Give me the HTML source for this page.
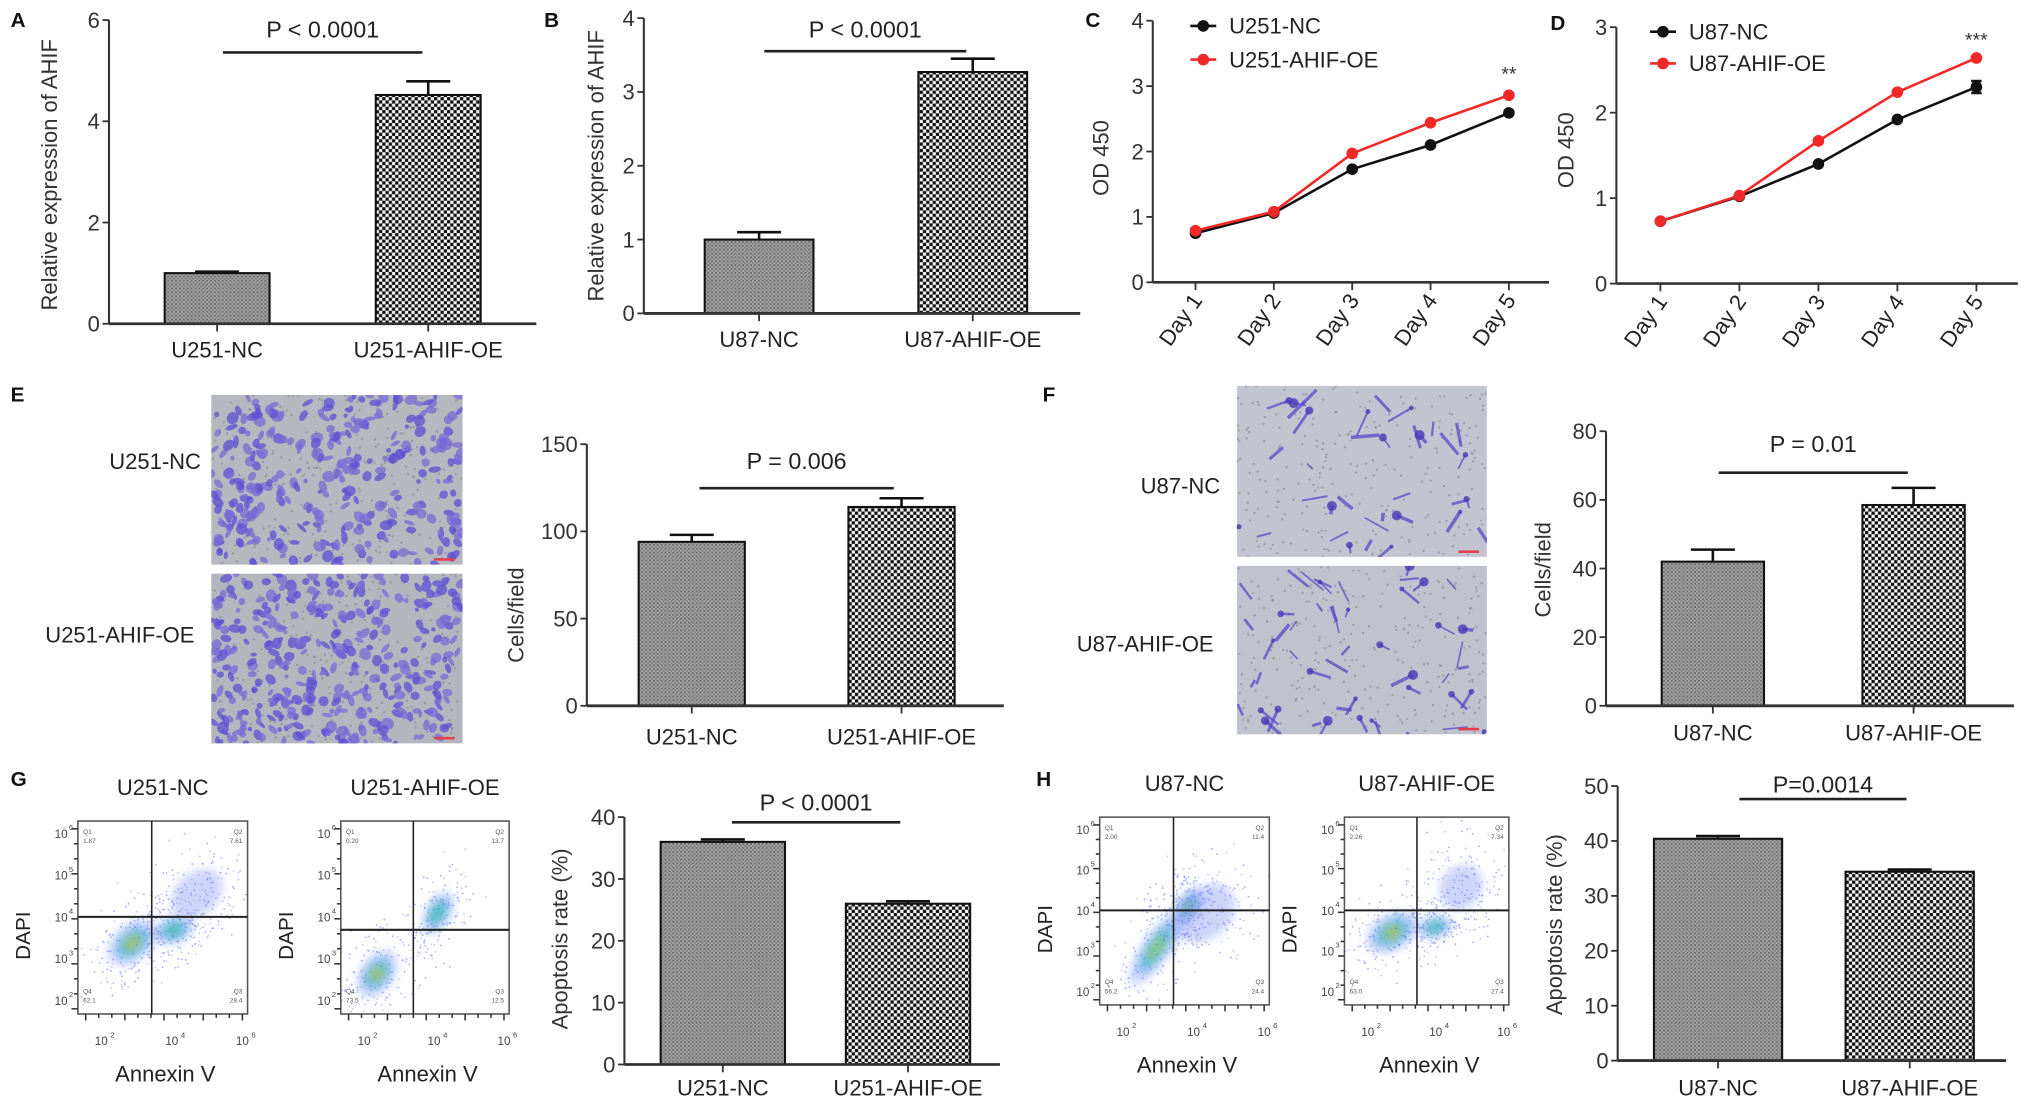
<!DOCTYPE html>
<html><head><meta charset="utf-8">
<style>
html,body{margin:0;padding:0;background:#fff;}
svg{display:block;font-family:"Liberation Sans",Arial,sans-serif;}
</style></head>
<body>
<svg id="fig" xmlns="http://www.w3.org/2000/svg" width="2031" height="1115" viewBox="0 0 1568 861">
<defs>
  <pattern id="patNC" width="3" height="3" patternUnits="userSpaceOnUse">
    <rect width="3" height="3" fill="#a4a4a4"/><rect width="1.5" height="1.5" fill="#6e6e6e"/><rect x="1.5" y="1.5" width="1.5" height="1.5" fill="#808080"/>
  </pattern>
  <pattern id="patOE" width="5" height="5" patternUnits="userSpaceOnUse">
    <rect width="5" height="5" fill="#f4f4f4"/><rect width="2.5" height="2.5" fill="#111"/><rect x="2.5" y="2.5" width="2.5" height="2.5" fill="#111"/>
  </pattern>
  <filter id="blur3" x="-50%" y="-50%" width="200%" height="200%"><feGaussianBlur stdDeviation="3.5"/></filter>
</defs>
<g id="root"></g>
</svg>
<script>
// ---------- data ----------
const aCats=['U251-NC','U251-AHIF-OE'];
const aVals=[1.0,4.52];
const aErr=[0.03,0.27];
const aTicks=[0,2,4,6];

const bCats=['U87-NC','U87-AHIF-OE'];
const bVals=[1.0,3.27];
const bErr=[0.1,0.18];
const bTicks=[0,1,2,3,4];

const days=['Day 1','Day 2','Day 3','Day 4','Day 5'];
const cNC=[0.75,1.06,1.73,2.10,2.59];
const cOE=[0.79,1.08,1.97,2.44,2.86];
const cTicks=[0,1,2,3,4];
const dNC=[0.73,1.02,1.40,1.92,2.30];
const dNCerr=[0,0,0,0,0.07];
const dOE=[0.73,1.03,1.67,2.24,2.64];
const dTicks=[0,1,2,3];

const eCats=['U251-NC','U251-AHIF-OE'];
const eVals=[94,114];
const eErr=[4,5];
const eTicks=[0,50,100,150];

const fCats=['U87-NC','U87-AHIF-OE'];
const fVals=[42,58.5];
const fErr=[3.5,5];
const fTicks=[0,20,40,60,80];

const gCats=['U251-NC','U251-AHIF-OE'];
const gVals=[36,26];
const gErr=[0.4,0.4];
const gTicks=[0,10,20,30,40];

const hCats=['U87-NC','U87-AHIF-OE'];
const hVals=[40.4,34.4];
const hErr=[0.5,0.4];
const hTicks=[0,10,20,30,40,50];

// ---------- helpers ----------
const NS='http://www.w3.org/2000/svg';
const root=document.getElementById('root');
function el(tag,attrs,parent,txt){
  const e=document.createElementNS(NS,tag);
  for(const k in attrs) e.setAttribute(k,attrs[k]);
  if(txt!==undefined) e.textContent=txt;
  (parent||root).appendChild(e);
  return e;
}
function grp(name,parent){
  const g=el('g',{},parent);
  
  
  return g;
}
function txt(parent,name,x,y,s,size,anchor,extra){
  const t=el('text',Object.assign({x:x,y:y,'font-size':size,'text-anchor':anchor||'middle',fill:'#222'},extra||{}),parent,s);
  
  
  return t;
}
function panelLetter(L,x,y){
  txt(root,'panel-label-'+L.toLowerCase(),x,y,L,16,'start',{'font-weight':'bold',fill:'#111'});
}

// ---------- bar chart ----------
function barChart(id,o,cats,vals,errs,ticks){
  const g=grp('bar-chart-'+id);
  const maxT=ticks[ticks.length-1];
  const Y=v=>o.y0-v/maxT*(o.y0-o.yTop);
  const ya=el('line',{x1:o.ax,y1:o.y0,x2:o.ax,y2:o.yTop,stroke:'#333','stroke-width':1.6},g);
  
  
  ticks.forEach(t=>{
    el('line',{x1:o.ax-5,x2:o.ax,y1:Y(t),y2:Y(t),stroke:'#333','stroke-width':1.4},g);
    txt(g,'y-tick-label',o.ax-7,Y(t)+6,String(t),17,'end',{fill:'#333'});
  });
  vals.forEach((v,i)=>{
    const [x1,x2]=o.bx[i];
    const r=el('rect',{x:x1,y:Y(v),width:x2-x1,height:o.y0-Y(v),fill:i===0?'url(#patNC)':'url(#patOE)',stroke:'#111','stroke-width':1.6},g);
    
    
    const cx=(x1+x2)/2, ey=Y(v+errs[i]);
    const eb=el('path',{d:`M${cx},${Y(v)}V${ey}M${cx-17},${ey}H${cx+17}`,stroke:'#111','stroke-width':2,fill:'none'},g);
    
    
    el('line',{x1:cx,x2:cx,y1:o.y0,y2:o.y0+6,stroke:'#333','stroke-width':1.4},g);
    txt(g,'x-tick-label',cx,o.labY,cats[i],17,'middle',{fill:'#222'});
  });
  const xa=el('line',{x1:o.ax,y1:o.y0,x2:o.xEnd,y2:o.y0,stroke:'#333','stroke-width':2.2},g);
  
  
  const sl=el('line',{x1:o.sig[0],x2:o.sig[1],y1:o.sig[2],y2:o.sig[2],stroke:'#222','stroke-width':2},g);
  
  
  txt(g,'p-value-label',(o.sig[0]+o.sig[1])/2,o.pY,o.p,18,'middle',{fill:'#222'});
  txt(g,'y-axis-title',0,0,o.title,17,'middle',{transform:`translate(${o.titleX},${o.titleY}) rotate(-90)`,fill:'#333'});
}

// ---------- line chart ----------
function lineChart(id,o,nc,oe,ncErr,ticks){
  const g=grp('line-chart-'+id);
  const maxT=ticks[ticks.length-1];
  const Y=v=>o.y0-v/maxT*(o.y0-o.yTop);
  const X=i=>o.x1+i*(o.x5-o.x1)/(days.length-1);
  el('line',{x1:o.ax,y1:o.y0,x2:o.ax,y2:o.yTop,stroke:'#333','stroke-width':1.6},g);
  ticks.forEach(t=>{
    el('line',{x1:o.ax-5,x2:o.ax,y1:Y(t),y2:Y(t),stroke:'#333','stroke-width':1.4},g);
    txt(g,'y-tick-label',o.ax-7,Y(t)+6,String(t),17,'end',{fill:'#333'});
  });
  el('line',{x1:o.ax,y1:o.y0,x2:o.xEnd,y2:o.y0,stroke:'#333','stroke-width':2},g);
  days.forEach((d,i)=>{
    el('line',{x1:X(i),x2:X(i),y1:o.y0,y2:o.y0+6,stroke:'#333','stroke-width':1.4},g);
    txt(g,'x-tick-label',0,0,d,17,'end',{transform:`translate(${X(i)+6},${o.y0+14}) rotate(-55)`,fill:'#222'});
  });
  const series=[[nc,'#111','nc'],[oe,'#f02828','oe']];
  series.forEach(([vals,col,nm],si)=>{
    const d=vals.map((v,i)=>(i?'L':'M')+X(i)+','+Y(v)).join('');
    const p=el('path',{d:d,stroke:col,'stroke-width':2,fill:'none'},g);
    
    
    vals.forEach((v,i)=>{
      if(si===0 && ncErr[i]>0){
        el('path',{d:`M${X(i)},${Y(v-ncErr[i])}V${Y(v+ncErr[i])}M${X(i)-4},${Y(v-ncErr[i])}H${X(i)+4}M${X(i)-4},${Y(v+ncErr[i])}H${X(i)+4}`,stroke:'#111','stroke-width':2,fill:'none'},g);
      }
      const c=el('circle',{cx:X(i),cy:Y(v),r:4.5,fill:col},g);
      
      
    });
  });
  txt(g,'significance-stars',X(4),o.starY,o.stars,15,'middle',{fill:'#333'});
  txt(g,'y-axis-title',0,0,'OD 450',17,'middle',{transform:`translate(${o.titleX},${o.titleY}) rotate(-90)`,fill:'#333'});
  const lg=grp('legend',g);
  [[o.leg[0],o.leg[1],'#111',o.names[0]],[o.leg[0],o.leg[2],'#f02828',o.names[1]]].forEach(([lx,ly,col,nm])=>{
    const e=grp('legend-entry',lg);
    el('line',{x1:lx-10,x2:lx+10,y1:ly,y2:ly,stroke:col,'stroke-width':2},e);
    el('circle',{cx:lx,cy:ly,r:4.5,fill:col},e);
    txt(e,'legend-label',lx+20,ly+6,nm,17,'start',{fill:'#222'});
  });
}

// ---------- decorative micrographs ----------
let seed=12345;
function rnd(){seed=(seed*1103515245+12345)%2147483648;return seed/2147483648;}
function micrograph(name,x,y,w,h,bg,n,mode){
  const g=grp(name);
  el('rect',{x:x,y:y,width:w,height:h,fill:bg},g);
  const cp='cp'+name;
  const c=el('clipPath',{id:cp},g); el('rect',{x:x,y:y,width:w,height:h},c);
  const inner=el('g',{'clip-path':`url(#${cp})`},g);
  for(let i=0;i<250;i++){
    el('circle',{cx:x+rnd()*w,cy:y+rnd()*h,r:0.9,fill:'#7a7c85',opacity:0.5},inner);
  }
  for(let i=0;i<n;i++){
    const cx=x+rnd()*w, cy=y+rnd()*h;
    if(mode==='dense'){
      el('ellipse',{cx:cx,cy:cy,rx:1.5+rnd()*3.5,ry:1.5+rnd()*3,fill:rnd()<0.5?'#5e4fd4':'#7a6ad6',opacity:0.75,transform:`rotate(${rnd()*180},${cx},${cy})`},inner);
    } else {
      const a=rnd()*Math.PI, L=6+rnd()*16;
      el('line',{x1:cx,y1:cy,x2:cx+Math.cos(a)*L,y2:cy+Math.sin(a)*L,stroke:'#5a48c8','stroke-width':1.2+rnd()*1.6,opacity:0.75},inner);
      if(rnd()<0.35) el('circle',{cx:cx,cy:cy,r:1.5+rnd()*2.5,fill:'#4a38b8',opacity:0.8},inner);
    }
  }
  el('rect',{x:x+w-22,y:y+h-5,width:16,height:2,fill:'#e04050'},g);
}

// ---------- decorative flow plots ----------
// blob: [cx, cy, rx, ry, rot, intensity(1..5)]
function flowPlot(name,box,hy,vx,blobs,title,quads){
  const [x1,x2,y1,y2]=box;
  const g=grp(name);
  txt(g,'flow-title',(x1+x2)/2,y1-20,title,17,'middle',{fill:'#222'});
  const cp='cp'+name;
  const c=el('clipPath',{id:cp},g); el('rect',{x:x1,y:y1,width:x2-x1,height:y2-y1},c);
  const inner=el('g',{'clip-path':`url(#${cp})`},g);
  blobs.forEach(([cx,cy,rx,ry,rot,lev])=>{
    const a=rot*Math.PI/180;
    for(let i=0;i<160;i++){
      const u=(rnd()+rnd()+rnd()-1.5)*2.2, v=(rnd()+rnd()+rnd()-1.5)*2.2;
      const px=cx+(u*rx*Math.cos(a)-v*ry*Math.sin(a)), py=cy+(u*rx*Math.sin(a)+v*ry*Math.cos(a));
      el('circle',{cx:px,cy:py,r:0.7,fill:rnd()<0.5?'#6a7cf0':'#9aa6f4',opacity:0.6},inner);
    }
    const bg=el('g',{filter:'url(#blur3)',transform:`rotate(${rot},${cx},${cy})`},inner);
    const layers=[[1,'#7088f0',0.35],[0.7,'#3aa8e0',0.5],[0.48,'#3cc0a0',0.6],[0.3,'#a0d030',0.65],[0.16,'#e8c020',0.7]];
    layers.slice(0,lev).forEach(([k,col,op])=>{
      el('ellipse',{cx:cx,cy:cy,rx:rx*k,ry:ry*k,fill:col,opacity:op},bg);
    });
  });
  el('rect',{x:x1,y:y1,width:x2-x1,height:y2-y1,fill:'none',stroke:'#555','stroke-width':1.2},g);
  el('line',{x1:x1,x2:x2,y1:hy,y2:hy,stroke:'#222','stroke-width':1.6},g);
  el('line',{x1:vx,x2:vx,y1:y1,y2:y2,stroke:'#222','stroke-width':1.2},g);
  const q=[['Q1',x1+4,y1+10,'start'],['Q2',x2-4,y1+10,'end'],['Q4',x1+4,y2-16,'start'],['Q3',x2-4,y2-16,'end']];
  q.forEach(([n,qx,qy,an],i)=>{
    txt(g,'quadrant-label',qx,qy,n,5,an,{fill:'#555'});
    txt(g,'quadrant-value',qx,qy+7,quads[i],5,an,{fill:'#555'});
  });
  for(let i=0;i<=12;i++){
    const ty=y1+6+i*(y2-y1-10)/12;
    el('line',{x1:x1-(i%3===0?5:3),x2:x1,y1:ty,y2:ty,stroke:'#333','stroke-width':1.2},g);
    const tx=x1+6+i*(x2-x1-10)/12;
    el('line',{x1:tx,x2:tx,y1:y2,y2:y2+(i%3===0?5:3),stroke:'#333','stroke-width':1.2},g);
  }
  ['6','5','4','3','2'].forEach((p,i)=>{
    const ty=y1+10+i*(y2-y1-20)/4;
    txt(g,'y-tick-label',x1-8,ty+3,'10',9,'end',{fill:'#444'});
    txt(g,'y-tick-exp',x1-7,ty-3,p,6,'start',{fill:'#444'});
  });
  ['2','4','6'].forEach((p,i)=>{
    const tx=x1+18+i*(x2-x1-22)/2;
    txt(g,'x-tick-label',tx,y2+24,'10',9,'middle',{fill:'#444'});
    txt(g,'x-tick-exp',tx+7,y2+18,p,6,'start',{fill:'#444'});
  });
  txt(g,'x-axis-title',(x1+x2)/2+2,y2+52,'Annexin V',17,'middle',{fill:'#222'});
  txt(g,'y-axis-title',0,0,'DAPI',16,'middle',{transform:`translate(${x1-37},${(y1+y2)/2+14}) rotate(-90)`,fill:'#222'});
}

// ---------- build ----------
panelLetter('A',8,21); panelLetter('B',420,21); panelLetter('C',838,21); panelLetter('D',1197,23);
panelLetter('E',8,310); panelLetter('F',805,310); panelLetter('G',8,607); panelLetter('H',800,607);

barChart('a',{ax:84,y0:250,yTop:15.5,xEnd:414,bx:[[127,208],[290,371]],sig:[172,326,40.5],pY:29,p:'P < 0.0001',title:'Relative expression of AHIF',titleX:44,titleY:135,labY:276},aCats,aVals,aErr,aTicks);
barChart('b',{ax:497,y0:242,yTop:14,xEnd:834,bx:[[544,628],[709,793]],sig:[590,746,39.5],pY:29,p:'P < 0.0001',title:'Relative expression of AHIF',titleX:466,titleY:128,labY:268},bCats,bVals,bErr,bTicks);

lineChart('c',{ax:890,y0:218,yTop:16,xEnd:1196,x1:923,x5:1165,starY:62,stars:'**',titleX:856,titleY:122,leg:[929,20,46],names:['U251-NC','U251-AHIF-OE']},cNC,cOE,[0,0,0,0,0],cTicks);
lineChart('d',{ax:1248,y0:219,yTop:21,xEnd:1558,x1:1282,x5:1526,starY:36,stars:'***',titleX:1215,titleY:116,leg:[1284,24.5,49],names:['U87-NC','U87-AHIF-OE']},dNC,dOE,dNCerr,dTicks);

micrograph('micrograph-u251-nc',163,305,194,131,'#b6b8bf',330,'dense');
micrograph('micrograph-u251-ahif-oe',163,443,194,131,'#b4b6be',380,'dense');
txt(root,'image-label-u251-nc',155,362,'U251-NC',17,'end');
txt(root,'image-label-u251-ahif-oe',150,496,'U251-AHIF-OE',17,'end');
micrograph('micrograph-u87-nc',955,298,193,132,'#c2c5cf',35,'sparse');
micrograph('micrograph-u87-ahif-oe',955,437,193,130,'#c0c3cd',50,'sparse');
txt(root,'image-label-u87-nc',942,381,'U87-NC',17,'end');
txt(root,'image-label-u87-ahif-oe',937,503,'U87-AHIF-OE',17,'end');

barChart('e',{ax:453,y0:545,yTop:343,xEnd:775,bx:[[493,575],[655,737]],sig:[540,690,377],pY:362,p:'P = 0.006',title:'Cells/field',titleX:404,titleY:475,labY:575},eCats,eVals,eErr,eTicks);
barChart('f',{ax:1240,y0:545,yTop:333,xEnd:1555,bx:[[1283,1362],[1438,1517]],sig:[1327,1473,365],pY:349,p:'P = 0.01',title:'Cells/field',titleX:1197,titleY:440,labY:572},fCats,fVals,fErr,fTicks);

flowPlot('flow-u251-nc',[60,191,634,783],708,117,[[102,728,22,14,-40,5],[134,718,16,11,-20,3],[152,690,22,16,-40,1]],'U251-NC',['1.87','7.61','62.1','28.4']);
flowPlot('flow-u251-ahif-oe',[263,393,634,783],718,319,[[291,752,20,13,-55,5],[338,705,18,10,-60,3]],'U251-AHIF-OE',['0.20','13.7','73.5','12.5']);
barChart('g',{ax:482,y0:822,yTop:631,xEnd:772,bx:[[510,606],[653,749]],sig:[565,695,635],pY:626,p:'P < 0.0001',title:'Apoptosis rate (%)',titleX:438,titleY:725,labY:846},gCats,gVals,gErr,gTicks);

flowPlot('flow-u87-nc',[849,980,631,776],703,906,[[893,732,34,11,-55,4],[918,700,14,9,-55,4],[930,705,26,20,-40,1]],'U87-NC',['2.00','11.4','56.2','24.4']);
flowPlot('flow-u87-ahif-oe',[1038,1165,631,776],703,1094,[[1075,720,22,14,-30,5],[1108,716,14,9,-15,3],[1128,685,18,16,-50,1]],'U87-AHIF-OE',['2.26','7.34','63.0','27.4']);
barChart('h',{ax:1249,y0:819,yTop:607,xEnd:1549,bx:[[1277,1376],[1425,1524]],sig:[1343,1472,617],pY:612,p:'P=0.0014',title:'Apoptosis rate (%)',titleX:1206,titleY:714,labY:846},hCats,hVals,hErr,hTicks);
</script>
</body></html>
